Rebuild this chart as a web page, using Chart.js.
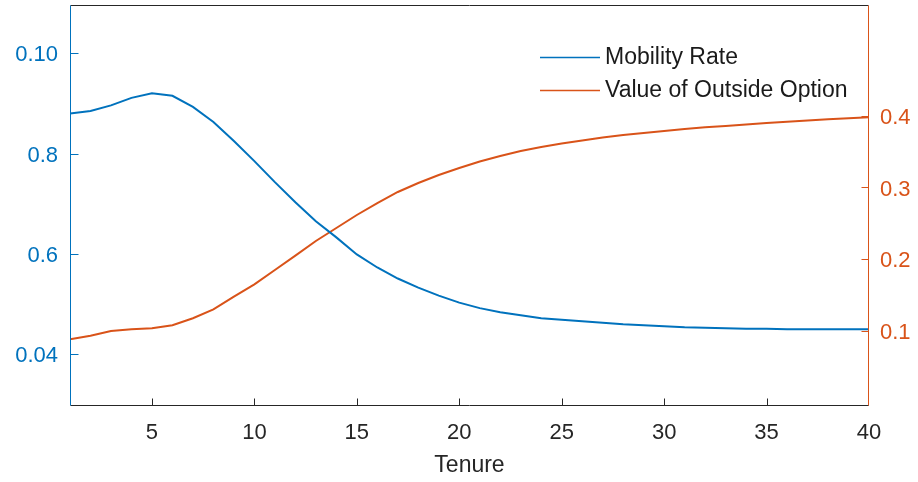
<!DOCTYPE html>
<html>
<head>
<meta charset="utf-8">
<script src="https://cdn.jsdelivr.net/npm/chart.js@4/dist/chart.umd.min.js"></script>
<style>
  html, body { margin: 0; padding: 0; background: #fff; }
  #wrap { width: 918px; height: 482px; }
</style>
</head>
<body>
<div id="wrap"><canvas id="c" width="918" height="482"></canvas></div>
<script>
const tenure = [1,2,3,4,5,6,7,8,9,10,11,12,13,14,15,16,17,18,19,20,21,22,23,24,25,26,27,28,29,30,31,32,33,34,35,36,37,38,39,40];
const mobilityRate = [0.0880,0.0885,0.0896,0.0911,0.0920,0.0915,0.0893,0.0863,0.0825,0.0785,
                      0.0743,0.0703,0.0665,0.0633,0.0599,0.0573,0.0551,0.0533,0.0517,0.0503,
                      0.0492,0.0484,0.0478,0.0472,0.0469,0.0466,0.0463,0.0460,0.0458,0.0456,
                      0.0454,0.0453,0.0452,0.0451,0.0451,0.0450,0.0450,0.0450,0.0450,0.0450];
const outsideOption = [0.0884,0.0935,0.1000,0.1024,0.1038,0.1080,0.1177,0.1300,0.1478,0.1650,
                       0.1850,0.2050,0.2254,0.2435,0.2616,0.2783,0.2937,0.3062,0.3174,0.3271,
                       0.3362,0.3438,0.3508,0.3564,0.3613,0.3654,0.3696,0.3731,0.3759,0.3787,
                       0.3815,0.3838,0.3856,0.3877,0.3898,0.3915,0.3933,0.3950,0.3964,0.3978];
const seriesLabels = ['Mobility Rate', 'Value of Outside Option'];
const xTickValues = [5,10,15,20,25,30,35,40];
const leftTickValues = [0.04,0.06,0.08,0.10];
const leftTickLabels = ['0.04','0.6','0.8','0.10'];
const rightTickValues = [0.1,0.2,0.3,0.4];
const rightTickLabels = ['0.1','0.2','0.3','0.4'];
const xTitle = 'Tenure';

const BLUE = '#0072BD';
const ORANGE = '#D95319';
const AXIS = '#262626';
const FONT = "'Liberation Sans', Arial, Helvetica, sans-serif";

function setTicks(values) {
  return function(scale) { scale.ticks = values.map(v => ({ value: v })); };
}
function noPad(s) { s.paddingTop = 0; s.paddingBottom = 0; s.paddingLeft = 0; s.paddingRight = 0; }

const axesPlugin = {
  id: 'matlabAxes',
  afterDraw(chart) {
    const ctx = chart.ctx;
    const a = chart.chartArea;
    const sx = chart.scales.x, sl = chart.scales.yL, sr = chart.scales.yR;
    const L = Math.round(a.left) + 0.5, R = Math.round(a.right) - 0.5;
    const T = Math.round(a.top) + 0.5, B = Math.round(a.bottom) - 0.5;
    ctx.save();
    ctx.lineWidth = 1;
    // top border
    ctx.strokeStyle = AXIS;
    ctx.beginPath(); ctx.moveTo(L, T); ctx.lineTo(R, T); ctx.stroke();
    // bottom axis + ticks
    ctx.beginPath(); ctx.moveTo(L, B); ctx.lineTo(R, B);
    xTickValues.forEach(v => {
      const px = Math.min(Math.round(sx.getPixelForValue(v)) + 0.5, R);
      ctx.moveTo(px, B); ctx.lineTo(px, B - 7);
    });
    ctx.stroke();
    // left axis
    ctx.strokeStyle = BLUE;
    ctx.beginPath(); ctx.moveTo(L, T); ctx.lineTo(L, B);
    leftTickValues.forEach(v => {
      const py = Math.round(sl.getPixelForValue(v)) + 0.5;
      ctx.moveTo(L, py); ctx.lineTo(L + 8, py);
    });
    ctx.stroke();
    // right axis
    ctx.strokeStyle = ORANGE;
    ctx.beginPath(); ctx.moveTo(R, T); ctx.lineTo(R, B);
    rightTickValues.forEach(v => {
      const py = Math.round(sr.getPixelForValue(v)) + 0.5;
      ctx.moveTo(R, py); ctx.lineTo(R - 7, py);
    });
    ctx.stroke();
    // legend
    const items = chart.data.datasets;
    const ys = [57, 90];
    ctx.font = '23px ' + FONT;
    ctx.textBaseline = 'middle';
    ctx.textAlign = 'left';
    items.forEach((ds, i) => {
      ctx.strokeStyle = ds.borderColor;
      ctx.lineWidth = 1.5;
      ctx.beginPath(); ctx.moveTo(540, ys[i] + 0.5); ctx.lineTo(600, ys[i] + 0.5); ctx.stroke();
      ctx.fillStyle = '#1a1a1a';
      ctx.fillText(ds.label, 605, ys[i] + 1);
    });
    ctx.restore();
  }
};

new Chart(document.getElementById('c'), {
  type: 'line',
  data: {
    datasets: [
      { label: seriesLabels[0], data: tenure.map((t, i) => ({ x: t, y: mobilityRate[i] })),
        borderColor: BLUE, backgroundColor: BLUE, borderWidth: 2, pointRadius: 0, tension: 0, yAxisID: 'yL' },
      { label: seriesLabels[1], data: tenure.map((t, i) => ({ x: t, y: outsideOption[i] })),
        borderColor: ORANGE, backgroundColor: ORANGE, borderWidth: 2, pointRadius: 0, tension: 0, yAxisID: 'yR' }
    ]
  },
  options: {
    responsive: false,
    animation: false,
    layout: { padding: { top: 5, left: 0, right: 0, bottom: 0 } },
    plugins: { legend: { display: false }, tooltip: { enabled: false } },
    scales: {
      x: {
        type: 'linear', min: 1, max: 40,
        afterBuildTicks: setTicks(xTickValues),
        afterFit(s) { s.height = 76; noPad(s); },
        grid: { display: false, drawTicks: false },
        border: { display: false },
        ticks: { color: AXIS, font: { family: FONT, size: 22 }, padding: 14, maxRotation: 0, autoSkip: false },
        title: { display: true, text: xTitle, color: AXIS, font: { family: FONT, size: 23 }, padding: { top: 0, bottom: 3 } }
      },
      yL: {
        type: 'linear', position: 'left', min: 0.0297, max: 0.1096,
        afterBuildTicks: setTicks(leftTickValues),
        afterFit(s) { s.width = 70; noPad(s); },
        grid: { display: false, drawTicks: false },
        border: { display: false },
        ticks: { color: BLUE, font: { family: FONT, size: 22 }, padding: 12, autoSkip: false, labelOffset: 2,
          callback: (v) => { const i = leftTickValues.findIndex(t => Math.abs(t - v) < 1e-9); return i >= 0 ? leftTickLabels[i] : ''; } }
      },
      yR: {
        type: 'linear', position: 'right', min: -0.0045, max: 0.5542,
        afterBuildTicks: setTicks(rightTickValues),
        afterFit(s) { s.width = 49; noPad(s); },
        grid: { display: false, drawTicks: false },
        border: { display: false },
        ticks: { color: ORANGE, font: { family: FONT, size: 22 }, padding: 11, autoSkip: false, labelOffset: 2,
          callback: (v) => { const i = rightTickValues.findIndex(t => Math.abs(t - v) < 1e-9); return i >= 0 ? rightTickLabels[i] : ''; } }
      }
    }
  },
  plugins: [axesPlugin]
});
</script>
</body>
</html>
